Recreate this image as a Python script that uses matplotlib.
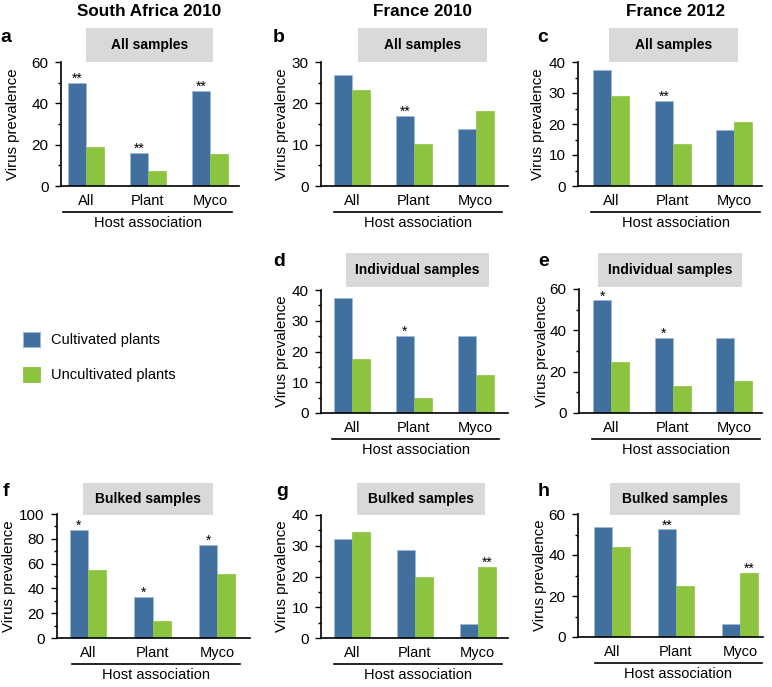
import matplotlib
matplotlib.use("Agg")
import matplotlib.pyplot as plt
from matplotlib.patches import Rectangle
from matplotlib.lines import Line2D
from matplotlib.ticker import MultipleLocator

plt.rcParams['font.family'] = ['Liberation Sans', 'DejaVu Sans']

W, H = 772, 687
BLUE = "#41709f"
GREEN = "#8cc43f"
GREY = "#d9d9d9"

categories = ["All", "Plant", "Myco"]
series_names = ["Cultivated plants", "Uncultivated plants"]
column_titles = ["South Africa 2010", "France 2010", "France 2012"]

# values per panel: (cultivated, uncultivated)
a_cult = [50, 16, 46]
a_unc = [19, 7.5, 15.5]
b_cult = [26.8, 17, 13.8]
b_unc = [23.3, 10.1, 18.2]
c_cult = [37.5, 27.5, 18]
c_unc = [29, 13.7, 20.5]
d_cult = [37.5, 25, 25]
d_unc = [17.5, 5, 12.5]
e_cult = [54.5, 36.4, 36.4]
e_unc = [24.5, 13.3, 15.5]
f_cult = [87.5, 33.3, 75]
f_unc = [54.5, 13.5, 52]
g_cult = [32.3, 28.6, 4.5]
g_unc = [34.4, 20, 23.1]
h_cult = [53.5, 52.5, 6.5]
h_unc = [43.8, 25, 31.3]

# significance marks
a_sig_c = ["**", "**", "**"]; a_sig_u = ["", "", ""]
b_sig_c = ["", "**", ""];     b_sig_u = ["", "", ""]
c_sig_c = ["", "**", ""];     c_sig_u = ["", "", ""]
d_sig_c = ["", "*", ""];      d_sig_u = ["", "", ""]
e_sig_c = ["*", "*", ""];     e_sig_u = ["", "", ""]
f_sig_c = ["*", "*", "*"];    f_sig_u = ["", "", ""]
g_sig_c = ["", "", ""];       g_sig_u = ["", "", "**"]
h_sig_c = ["", "**", ""];     h_sig_u = ["", "", "**"]

panel_letters = ["a", "b", "c", "d", "e", "f", "g", "h"]
box_labels = ["All samples", "All samples", "All samples",
              "Individual samples", "Individual samples",
              "Bulked samples", "Bulked samples", "Bulked samples"]
ymaxes = [60, 30, 40, 40, 60, 100, 40, 60]
ysteps = [20, 10, 10, 10, 20, 20, 10, 20]

panels = [
    (a_cult, a_unc, a_sig_c, a_sig_u),
    (b_cult, b_unc, b_sig_c, b_sig_u),
    (c_cult, c_unc, c_sig_c, c_sig_u),
    (d_cult, d_unc, d_sig_c, d_sig_u),
    (e_cult, e_unc, e_sig_c, e_sig_u),
    (f_cult, f_unc, f_sig_c, f_sig_u),
    (g_cult, g_unc, g_sig_c, g_sig_u),
    (h_cult, h_unc, h_sig_c, h_sig_u),
]

# layout in pixels: axis left, top, right, bottom; xlim; bar width;
# grey box l,t,r,b; underline l,r; ylabel x; letter x,y
layout = [
    dict(ax=(61, 62, 239, 186), xlim=(-0.40, 2.47), bw=0.29, box=(86, 28, 213, 62), ul=(63, 232), ylx=13, let=(0, 37)),
    dict(ax=(321, 62, 508, 186), xlim=(-0.50, 2.52), bw=0.29, box=(358, 28, 487, 62), ul=(334, 502), ylx=282, let=(273, 37)),
    dict(ax=(578, 62, 762, 186), xlim=(-0.54, 2.45), bw=0.29, box=(609, 28, 738, 62), ul=(591, 760), ylx=538, let=(537, 37)),
    dict(ax=(321, 290, 508, 413), xlim=(-0.50, 2.52), bw=0.29, box=(346, 253, 489, 287), ul=(332, 499), ylx=282, let=(273, 262)),
    dict(ax=(579, 289, 762, 413), xlim=(-0.52, 2.45), bw=0.29, box=(598, 253, 742, 287), ul=(592, 760), ylx=542, let=(538, 262)),
    dict(ax=(57, 514, 250, 638), xlim=(-0.48, 2.51), bw=0.28, box=(83, 483, 213, 515), ul=(72, 240), ylx=9, let=(3, 492)),
    dict(ax=(321, 515, 508, 638), xlim=(-0.49, 2.48), bw=0.285, box=(357, 483, 485, 515), ul=(334, 502), ylx=282, let=(276, 492)),
    dict(ax=(578, 514, 763, 637), xlim=(-0.53, 2.36), bw=0.28, box=(610, 483, 740, 515), ul=(595, 762), ylx=540, let=(538, 492)),
]

fig = plt.figure(figsize=(W / 100, H / 100), dpi=100)


def fx(x):
    return x / W


def fy(y):
    return 1 - y / H


for i, (lay, (cult, unc, sc, su)) in enumerate(zip(layout, panels)):
    l, t, r, b = lay["ax"]
    ax = fig.add_axes([fx(l), fy(b), (r - l) / W, (b - t) / H])
    xs = list(range(len(categories)))
    bw = lay["bw"]
    xc = [x - bw / 2 for x in xs]
    xu = [x + bw / 2 for x in xs]
    ax.bar(xc, cult, width=bw, color=BLUE, edgecolor="#9dbbd9", linewidth=0.5)
    ax.bar(xu, unc, width=bw, color=GREEN, edgecolor=GREEN, linewidth=0.5)
    for x, v, s in zip(xc, cult, sc):
        if s:
            ax.text(x, v, s, ha="center", va="baseline", fontsize=10)
    for x, v, s in zip(xu, unc, su):
        if s:
            ax.text(x, v, s, ha="center", va="baseline", fontsize=10)
    ax.set_xlim(*lay["xlim"])
    ax.set_ylim(0, ymaxes[i])
    ax.yaxis.set_major_locator(MultipleLocator(ysteps[i]))
    ax.yaxis.set_minor_locator(MultipleLocator(ysteps[i] / 2))
    ax.set_xticks(xs)
    ax.set_xticklabels(categories, fontsize=10.5)
    ax.tick_params(axis="x", length=0, pad=6)
    ax.tick_params(axis="y", which="major", length=4, width=1, pad=5, labelsize=11, direction="out")
    ax.tick_params(axis="y", which="minor", length=2.5, width=1, direction="out")
    for s in ("top", "right"):
        ax.spines[s].set_visible(False)
    ax.spines["left"].set_linewidth(1.2)
    ax.spines["bottom"].set_linewidth(1.2)
    ax.set_ylabel("Virus prevalence", fontsize=10.8)
    ax.yaxis.set_label_coords((lay["ylx"] - l) / (r - l), 0.5)
    ax.yaxis.label.set_va("center")

    # underline + "Host association"
    u0, u1 = lay["ul"]
    fig.add_artist(Line2D([fx(u0), fx(u1)], [fy(b + 26), fy(b + 26)], color="black", linewidth=1.2))
    fig.text(fx((u0 + u1) / 2), fy(b + 37), "Host association", ha="center", va="center", fontsize=10.5)

    # grey box
    bl, bt, br, bb = lay["box"]
    fig.add_artist(Rectangle((fx(bl), fy(bb)), (br - bl) / W, (bb - bt) / H,
                             transform=fig.transFigure, facecolor=GREY, edgecolor="none"))
    fig.text(fx((bl + br) / 2), fy((bt + bb) / 2), box_labels[i], ha="center", va="center",
             fontsize=10, fontweight="bold")

    # panel letter
    lx, ly = lay["let"]
    fig.text(fx(lx), fy(ly), panel_letters[i], ha="left", va="center", fontsize=14, fontweight="bold")

# column titles
for cx, title in zip([149, 423, 675], column_titles):
    fig.text(fx(cx), fy(12), title, ha="center", va="center", fontsize=12.3, fontweight="bold")

# legend
for (y0, y1), color, name in zip([(332, 347), (367, 382)], [BLUE, GREEN], series_names):
    fig.add_artist(Rectangle((fx(23), fy(y1)), 17 / W, (y1 - y0) / H, transform=fig.transFigure,
                             facecolor=color, edgecolor="#9dbbd9" if color == BLUE else color, linewidth=0.6))
    fig.text(fx(51), fy((y0 + y1) / 2), name, ha="left", va="center", fontsize=10.5)

fig.savefig("out.png", dpi=100, facecolor="white")
